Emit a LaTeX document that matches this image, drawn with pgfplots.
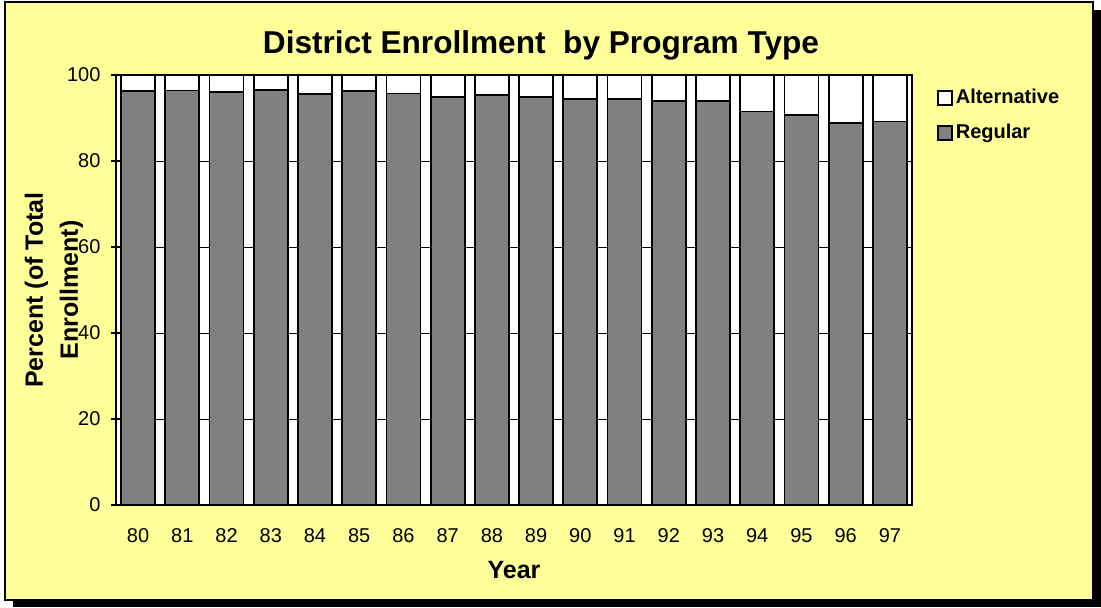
\documentclass[border=0pt]{standalone}
\usepackage{pgfplots}
\pgfplotsset{compat=1.18}
\usepackage{fontspec}
\setmainfont{Liberation Sans}
\definecolor{bgyellow}{RGB}{255,255,153}
\definecolor{bargray}{RGB}{128,128,128}
\begin{document}
\begin{tikzpicture}
\useasboundingbox (0,0) rectangle (550.5pt,303.5pt);
\fill[black] (6.5pt,0pt) rectangle (550.5pt,298.5pt);
\filldraw[fill=bgyellow,draw=black,line width=0.8pt] (2.5pt,3.5pt) rectangle (546.5pt,302.5pt);
\begin{axis}[
  at={(58pt,51pt)}, anchor=south west,
  scale only axis, width=398pt, height=215pt,
  ybar stacked, bar width=17pt,
  xmin=-0.5, xmax=17.5, ymin=0, ymax=100,
  xtick={0,...,17},
  xticklabels={80,81,82,83,84,85,86,87,88,89,90,91,92,93,94,95,96,97},
  ytick={0,20,40,60,80,100},
  ytick pos=left,
  axis background/.style={fill=white},
  axis line style={black,line width=0.9pt},
  ymajorgrids, grid style={black,line width=0.5pt},
  major tick length=4.5pt, tick align=center,
  tick style={black,line width=0.6pt},
  xtick style={draw=none},
  /pgf/number format/assume math mode=true,
  ticklabel style={font=\fontsize{10}{12}\selectfont},
  xticklabel style={yshift=-6pt},
  yticklabel style={xshift=-2pt},
  xlabel={Year},
  xlabel style={font=\bfseries\fontsize{12.5}{15}\selectfont, at={(axis description cs:0.5,0)}, anchor=center, yshift=-32.5pt},
  ylabel={Percent (of Total\\Enrollment)},
  ylabel style={font=\bfseries\fontsize{12.5}{17.5}\selectfont, align=center, at={([xshift=-31pt]axis description cs:0,0.5)}, anchor=center, rotate=0},
  reverse legend,
  legend cell align=left,
  legend image code/.code={\draw[#1,line width=0.7pt] (0pt,-3.5pt) rectangle (7pt,3.5pt);},
  legend style={draw=none, fill=none, at={(axis description cs:1,1)}, anchor=north west, xshift=12.5pt, yshift=-5pt, inner sep=0pt, row sep=5pt, font=\bfseries\fontsize{10}{12}\selectfont, nodes={inner sep=1.5pt, text height=7.5pt, text depth=2pt}},
]
\addplot[fill=bargray, draw=black, line width=0.9pt] coordinates {
(0,96.2) (1,96.4) (2,96.0) (3,96.6) (4,95.6) (5,96.2) (6,95.7) (7,94.9) (8,95.4)
(9,94.9) (10,94.4) (11,94.4) (12,94.0) (13,93.9) (14,91.5) (15,90.7) (16,88.9) (17,89.2)};
\addlegendentry{Regular}
\addplot[fill=white, draw=black, line width=0.9pt] coordinates {
(0,3.8) (1,3.6) (2,4.0) (3,3.4) (4,4.4) (5,3.8) (6,4.3) (7,5.1) (8,4.6)
(9,5.1) (10,5.6) (11,5.6) (12,6.0) (13,6.1) (14,8.5) (15,9.3) (16,11.1) (17,10.8)};
\addlegendentry{Alternative}
\end{axis}
\node[font=\bfseries\fontsize{15.8}{19}\selectfont] at (270.5pt,281pt) {District Enrollment\ \ by Program Type};
\end{tikzpicture}
\end{document}
